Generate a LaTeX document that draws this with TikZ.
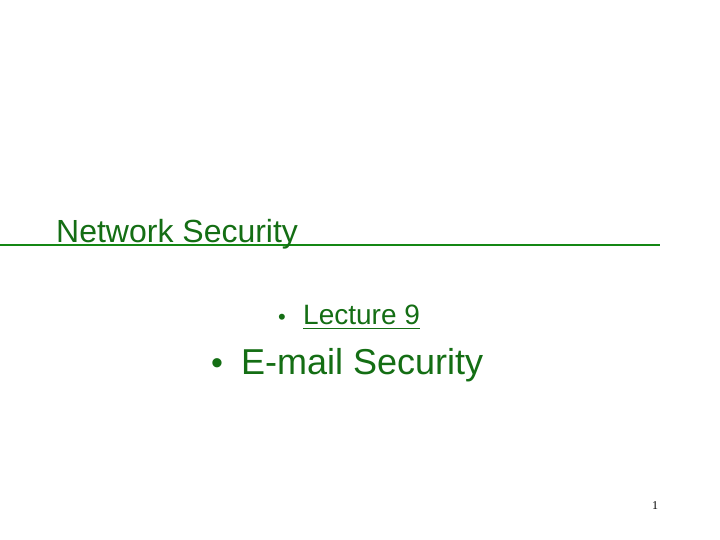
\documentclass[tikz,border=0pt]{standalone}
\usepackage{fontspec}
\setmainfont{Liberation Sans}
\newfontfamily\serifnum{Liberation Serif}
\definecolor{tgreen}{RGB}{20,110,20}
\definecolor{lgreen}{RGB}{20,135,20}
\begin{document}
\begin{tikzpicture}[x=1pt,y=-1pt,
  txt/.style={inner sep=0pt,anchor=base west,text=tgreen}]
\useasboundingbox (0,0) rectangle (720,540);
\fill[white] (0,0) rectangle (720,540);
\draw[lgreen,line width=2.2pt] (0,245) -- (660,245);
\node[txt,font=\fontsize{32}{38}\selectfont] (title) at (56,242) {Network Security};
\node[txt,font=\fontsize{22}{26}\selectfont] (b1) at (278,324) {\textbullet};
\node[txt,font=\fontsize{28}{32}\selectfont] (lec) at (303,324) {Lecture 9};
\draw[tgreen,line width=1pt] (303,328) -- (420,328);
\node[txt,font=\fontsize{34}{40}\selectfont] (b2) at (211,374) {\textbullet};
\node[txt,font=\fontsize{36}{42}\selectfont] (em) at (241,374) {E-mail Security};
\node[txt,text=black,font=\serifnum\fontsize{12}{14}\selectfont] (pg) at (652,509) {1};
\end{tikzpicture}
\end{document}
